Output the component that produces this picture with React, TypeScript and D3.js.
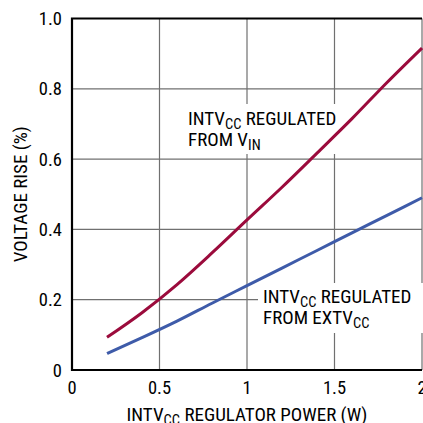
import * as d3 from 'd3';
import React, { useRef, useEffect } from 'react';

const width = 423;
const height = 423;
const margin = { top: 18.5, right: 1, bottom: 53, left: 72 };

const powerW = [0.2, 0.4, 0.6, 0.8, 1.0, 1.2, 1.4, 1.6, 1.8, 2.0];
const riseFromVin = [0.093, 0.163, 0.243, 0.333, 0.427, 0.52, 0.617, 0.715, 0.818, 0.916];
const riseFromExtvcc = [0.047, 0.092, 0.139, 0.19, 0.24, 0.29, 0.34, 0.39, 0.44, 0.49];
const xTicks = [0, 0.5, 1, 1.5, 2];
const xTickLabels = ['0', '0.5', '1', '1.5', '2'];
const yTicks = [0, 0.2, 0.4, 0.6, 0.8, 1.0];
const yTickLabels = ['0', '0.2', '0.4', '0.6', '0.8', '1.0'];

const font = '"Liberation Sans Narrow", "Roboto Condensed", "Arial Narrow", sans-serif';
const red = '#9b0b3c';
const blue = '#3e5ba9';
const grid = '#707070';

function App() {
  const ref = useRef<SVGSVGElement>(null);

  useEffect(() => {
    const svg = d3.select(ref.current);
    svg.selectAll('*').remove();

    const x = d3.scaleLinear().domain([0, 2]).range([margin.left, width - margin.right]);
    const y = d3.scaleLinear().domain([0, 1]).range([height - margin.bottom, margin.top]);

    svg.append('rect').attr('width', width).attr('height', height).attr('fill', '#fff');

    // grid
    svg
      .append('g')
      .selectAll('line')
      .data(xTicks.slice(1))
      .enter()
      .append('line')
      .attr('x1', (d) => x(d))
      .attr('x2', (d) => x(d))
      .attr('y1', y(0))
      .attr('y2', y(1))
      .attr('stroke', grid)
      .attr('stroke-width', 1.2);
    svg
      .append('g')
      .selectAll('line')
      .data(yTicks.slice(1, -1))
      .enter()
      .append('line')
      .attr('x1', x(0))
      .attr('x2', x(2))
      .attr('y1', (d) => y(d))
      .attr('y2', (d) => y(d))
      .attr('stroke', grid)
      .attr('stroke-width', 1.2);

    // label backgrounds hide the grid
    svg.append('rect').attr('x', 184).attr('y', 104).attr('width', 160).attr('height', 50).attr('fill', '#fff');
    svg.append('rect').attr('x', 258).attr('y', 283).attr('width', 165).attr('height', 50).attr('fill', '#fff');

    // frame
    svg
      .append('path')
      .attr('d', `M${x(2)},${y(1)}H${x(0)}V${y(0)}H${x(2)}`)
      .attr('fill', 'none')
      .attr('stroke', '#000')
      .attr('stroke-width', 2.2);

    const line = d3
      .line<number>()
      .x((_, i) => x(powerW[i]))
      .y((d) => y(d))
      .curve(d3.curveMonotoneX);

    svg.append('path').attr('d', line(riseFromExtvcc)).attr('fill', 'none').attr('stroke', blue).attr('stroke-width', 3);
    svg.append('path').attr('d', line(riseFromVin)).attr('fill', 'none').attr('stroke', red).attr('stroke-width', 3);

    // tick labels
    svg
      .append('g')
      .selectAll('text')
      .data(yTicks)
      .enter()
      .append('text')
      .attr('x', 62)
      .attr('y', (d) => y(d) + 6.5)
      .attr('text-anchor', 'end')
      .attr('font-family', font)
      .attr('font-size', 18.5)
      .text((_, i) => yTickLabels[i]);
    svg
      .append('g')
      .selectAll('text')
      .data(xTicks)
      .enter()
      .append('text')
      .attr('x', (d) => x(d))
      .attr('y', 393.5)
      .attr('text-anchor', 'middle')
      .attr('font-family', font)
      .attr('font-size', 18.5)
      .text((_, i) => xTickLabels[i]);

    // axis titles
    const xt = svg
      .append('text')
      .attr('x', x(1))
      .attr('y', 421)
      .attr('text-anchor', 'middle')
      .attr('font-family', font)
      .attr('font-size', 19);
    xt.append('tspan').text('INTV');
    xt.append('tspan').attr('font-size', 14.5).attr('dy', 4).text('CC');
    xt.append('tspan').attr('dy', -4).text(' REGULATOR POWER (W)');

    svg
      .append('text')
      .attr('transform', `translate(27, ${(y(0) + y(1)) / 2}) rotate(-90)`)
      .attr('text-anchor', 'middle')
      .attr('font-family', font)
      .attr('font-size', 19)
      .text('VOLTAGE RISE (%)');

    // curve labels
    const label = (lx: number, ly: number, sub1: string, line2: string, sub2: string) => {
      const t = svg.append('text').attr('font-family', font).attr('font-size', 19);
      t.append('tspan').attr('x', lx).attr('y', ly).text('INTV');
      t.append('tspan').attr('font-size', 14.5).attr('dy', 4).text(sub1);
      t.append('tspan').attr('dy', -4).text(' REGULATED');
      t.append('tspan').attr('x', lx).attr('y', ly + 21).text(line2);
      t.append('tspan').attr('font-size', 14.5).attr('dy', 4).text(sub2);
    };
    label(188, 125, 'CC', 'FROM V', 'IN');
    label(263, 303, 'CC', 'FROM EXTV', 'CC');
  }, []);

  return <svg ref={ref} width={width} height={height} style={{ position: 'absolute', left: 0, top: 0 }} />;
}

export default App;
